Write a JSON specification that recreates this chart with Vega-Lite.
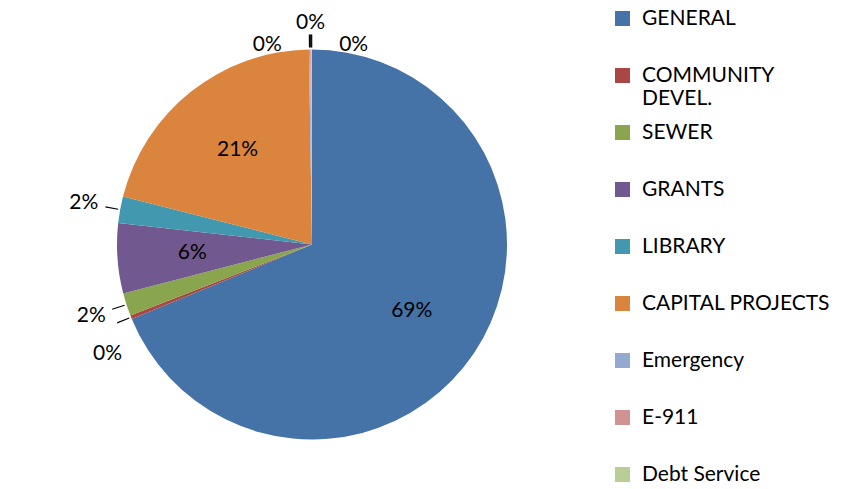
{
  "$schema": "https://vega.github.io/schema/vega-lite/v6.json",
  "width": 624,
  "height": 489,
  "padding": 0,
  "background": "white",
  "config": {"view": {"stroke": null}, "font": "Lato"},
  "data": {"values": [
    {"fund": "GENERAL", "share": 0.688, "order": 1},
    {"fund": "COMMUNITY DEVEL.", "share": 0.003, "order": 2},
    {"fund": "SEWER", "share": 0.019, "order": 3},
    {"fund": "GRANTS", "share": 0.058, "order": 4},
    {"fund": "LIBRARY", "share": 0.022, "order": 5},
    {"fund": "CAPITAL PROJECTS", "share": 0.208, "order": 6},
    {"fund": "Emergency", "share": 0.001, "order": 7},
    {"fund": "E-911", "share": 0.001, "order": 8},
    {"fund": "Debt Service", "share": 0.0005, "order": 9}
  ]},
  "encoding": {
    "theta": {"field": "share", "type": "quantitative", "stack": true},
    "order": {"field": "order", "type": "quantitative"}
  },
  "layer": [
    {
      "mark": {"type": "arc", "outerRadius": 195},
      "encoding": {
        "color": {
          "field": "fund", "type": "nominal",
          "scale": {
            "domain": ["GENERAL", "COMMUNITY DEVEL.", "SEWER", "GRANTS", "LIBRARY", "CAPITAL PROJECTS", "Emergency", "E-911", "Debt Service"],
            "range": ["#4572A7", "#AA4643", "#89A54E", "#71588F", "#4198AF", "#DB843D", "#93A9CF", "#D19392", "#B9CD96"]
          },
          "legend": {
            "orient": "none", "legendX": 612, "legendY": 8, "title": null,
            "labelFontSize": 21, "labelColor": "#000000", "labelFont": "Lato",
            "symbolType": "square", "symbolSize": 225, "symbolStrokeWidth": 0,
            "labelOffset": 9, "rowPadding": 12, "labelLimit": 260,
            "columns": 1, "gridAlign": "all",
            "labelExpr": "datum.label == 'COMMUNITY DEVEL.' ? ['COMMUNITY', 'DEVEL.'] : datum.label"
          }
        }
      }
    },
    {
      "mark": {"type": "arc", "radius": 197, "radius2": 210, "padAngle": 1, "filled": false, "stroke": "#000000", "strokeWidth": 1.2},
      "encoding": {
        "strokeOpacity": {"condition": {"test": "datum.share < 0.05", "value": 1}, "value": 0}
      }
    },
    {
      "transform": [{"calculate": "datum.share >= 0.05 ? format(datum.share, '.0%') : ''", "as": "lbl"}],
      "mark": {"type": "text", "radius": 120, "fontSize": 21, "color": "#000000"},
      "encoding": {"text": {"field": "lbl", "type": "nominal"}}
    },
    {
      "transform": [{"calculate": "datum.fund == 'SEWER' || datum.fund == 'LIBRARY' ? format(datum.share, '.0%') : ''", "as": "lbl"}],
      "mark": {"type": "text", "radius": 232, "fontSize": 21, "color": "#000000"},
      "encoding": {"text": {"field": "lbl", "type": "nominal"}}
    },
    {
      "transform": [{"calculate": "datum.fund == 'COMMUNITY DEVEL.' ? format(datum.share, '.0%') : ''", "as": "lbl"}],
      "mark": {"type": "text", "radius": 214, "dy": 30, "dx": -6, "fontSize": 21, "color": "#000000"},
      "encoding": {"text": {"field": "lbl", "type": "nominal"}}
    },
    {
      "transform": [{"calculate": "datum.fund == 'Emergency' ? format(datum.share, '.0%') : ''", "as": "lbl"}],
      "mark": {"type": "text", "radius": 212, "dx": -42, "dy": 12, "fontSize": 21, "color": "#000000"},
      "encoding": {"text": {"field": "lbl", "type": "nominal"}}
    },
    {
      "transform": [{"calculate": "datum.fund == 'E-911' ? format(datum.share, '.0%') : ''", "as": "lbl"}],
      "mark": {"type": "text", "radius": 222, "fontSize": 21, "color": "#000000"},
      "encoding": {"text": {"field": "lbl", "type": "nominal"}}
    },
    {
      "transform": [{"calculate": "datum.fund == 'Debt Service' ? format(datum.share, '.0%') : ''", "as": "lbl"}],
      "mark": {"type": "text", "radius": 212, "dx": 42, "dy": 12, "fontSize": 21, "color": "#000000"},
      "encoding": {"text": {"field": "lbl", "type": "nominal"}}
    }
  ]
}
